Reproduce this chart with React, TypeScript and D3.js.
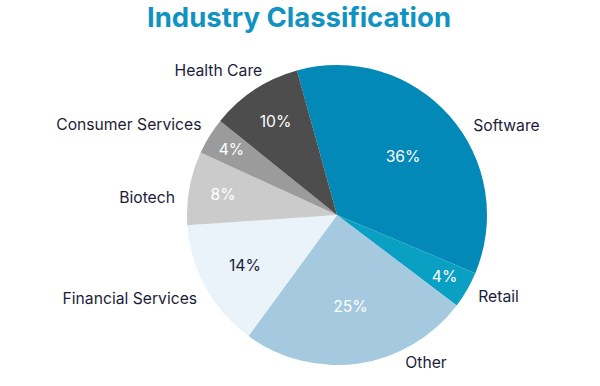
import * as d3 from "d3";
import { useEffect, useRef } from "react";

// data
const categories = ["Software", "Retail", "Other", "Financial Services", "Biotech", "Consumer Services", "Health Care"];
const shares = [36, 4, 25, 14, 8, 4, 10];
const colors = ["#0289b8", "#0aa0c4", "#a5c9de", "#eaf3f9", "#cbcbcb", "#9b9b9b", "#4d4d4d"];
const darkLabel = ["Financial Services"];

// small angle nudges (degrees) for the outside labels, to mimic the original layout
const labelNudge: Record<string, number> = {
    "Software": 8,
    "Health Care": 6,
    "Biotech": -4,
    "Consumer Services": 2,
    "Financial Services": -2,
};

const W = 600;
const H = 386;

const App = () => {
    const ref = useRef<SVGSVGElement>(null);
    const cx = 337;
    const cy = 215;
    const radius = 150;
    const labelRadius = 163;

    useEffect(() => {
        const svg = d3.select(ref.current);
        svg.selectAll("*").remove();

        svg.append("text")
            .attr("x", W / 2 - 1)
            .attr("y", 27)
            .attr("text-anchor", "middle")
            .style("font-family", "Inter, sans-serif")
            .style("font-size", "27.5px")
            .style("font-weight", 700)
            .attr("fill", "#1193c1")
            .text("Industry Classification");

        const rows = categories.map((c, i) => ({ name: c, value: shares[i], color: colors[i] }));
        const total = d3.sum(shares);
        const start = (-15.5 * Math.PI) / 180;

        const pie = d3.pie<any>()
            .value((d) => d.value)
            .sort(null)
            .startAngle(start)
            .endAngle(start + 2 * Math.PI);

        const arcs = pie(rows);
        const arc = d3.arc<any>().innerRadius(0).outerRadius(radius);

        const g = svg.append("g").attr("transform", `translate(${cx},${cy})`);

        g.selectAll("path.slice")
            .data(arcs)
            .join("path")
            .attr("class", "slice")
            .attr("d", arc)
            .attr("fill", (d) => d.data.color);

        // percentage labels inside the slices
        g.selectAll("text.pct")
            .data(arcs)
            .join("text")
            .attr("class", "pct")
            .attr("transform", (d) => {
                const mid = (d.startAngle + d.endAngle) / 2;
                const p = d.value / total;
                const t = (0.36 - p) / 0.32;
                const dist = 88 + 36 * t * t;
                return `translate(${dist * Math.sin(mid)},${-dist * Math.cos(mid)})`;
            })
            .attr("text-anchor", "middle")
            .attr("dy", "0.35em")
            .style("font-family", "Inter, sans-serif")
            .style("font-size", "15.7px")
            .attr("fill", (d) => (darkLabel.includes(d.data.name) ? "#1c1c3a" : "#ffffff"))
            .text((d) => `${d.value}%`);

        // category labels outside
        const maxDy = 148;
        g.selectAll("text.name")
            .data(arcs)
            .join("text")
            .attr("class", "name")
            .each(function (d) {
                const nudge = ((labelNudge[d.data.name] || 0) * Math.PI) / 180;
                const mid = (d.startAngle + d.endAngle) / 2 + nudge;
                const side = Math.sin(mid) >= 0 ? 1 : -1;
                let dy = -labelRadius * Math.cos(mid);
                dy = Math.max(-maxDy, Math.min(maxDy, dy));
                const dx = side * Math.sqrt(labelRadius * labelRadius - dy * dy);
                d3.select(this)
                    .attr("x", dx)
                    .attr("y", dy)
                    .attr("text-anchor", side > 0 ? "start" : "end");
            })
            .attr("dy", "0.35em")
            .style("font-family", "Inter, sans-serif")
            .style("font-size", "15.7px")
            .attr("fill", "#1c1c3a")
            .text((d) => d.data.name);
    }, []);

    return (
        <div style={{ position: "absolute", left: 0, top: 0 }}>
            <svg ref={ref} width={W} height={H} style={{ display: "block", background: "#ffffff" }}></svg>
        </div>
    );
};

export default App;
